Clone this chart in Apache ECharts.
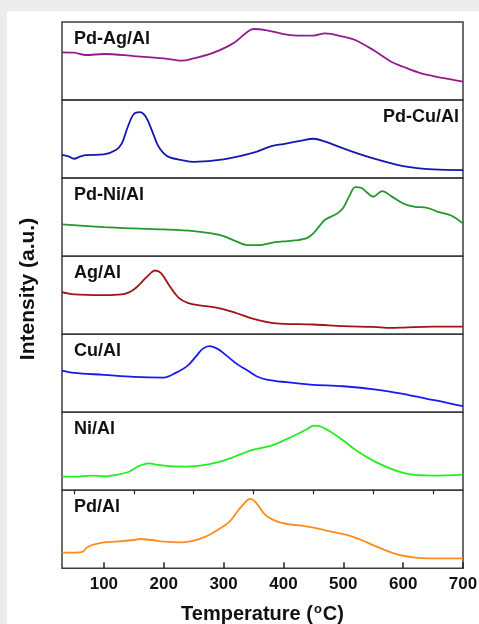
<!DOCTYPE html>
<html>
<head>
<meta charset="utf-8">
<script src="https://cdn.jsdelivr.net/npm/echarts@6/dist/echarts.min.js"></script>
<style>
  html, body { margin: 0; padding: 0; background: #ffffff; }
  #chart { width: 479px; height: 624px; }
</style>
</head>
<body>
<div id="chart"></div>
<script>
// TPR profiles, stacked top to bottom. Intensity in arbitrary units (0-100 per panel).
const sampleNames = ['Pd-Ag/Al', 'Pd-Cu/Al', 'Pd-Ni/Al', 'Ag/Al', 'Cu/Al', 'Ni/Al', 'Pd/Al'];
const sampleColors = ['#931a93', '#1616b0', '#22992a', '#a01414', '#1a1af0', '#22ee22', '#ff8c1a'];

const pdAgT = [30, 50, 70, 100, 150, 200, 230, 250, 280, 300, 320, 340, 350, 370, 400, 430, 450, 470, 500, 520, 550, 580, 600, 630, 650, 680, 700];
const pdAgV = [61.1, 60.7, 57.7, 59.0, 56.4, 53.4, 50.4, 53.4, 59.8, 66.2, 74.8, 87.6, 91.0, 89.7, 84.6, 82.5, 82.5, 85.5, 81.2, 76.9, 64.1, 49.1, 42.7, 34.2, 30.8, 26.5, 23.5];

const pdCuT = [30, 40, 50, 60, 70, 100, 120, 130, 140, 150, 160, 170, 180, 190, 200, 210, 230, 250, 300, 350, 380, 400, 430, 450, 470, 500, 550, 600, 650, 700];
const pdCuV = [29.9, 28.2, 24.8, 27.4, 29.5, 30.3, 35.9, 44.4, 65.8, 82.1, 84.6, 78.6, 61.5, 42.3, 31.6, 26.5, 23.1, 20.9, 23.9, 32.5, 41.0, 43.6, 47.9, 50.4, 46.6, 38.0, 25.2, 15.4, 11.1, 10.3];

const pdNiT = [30, 100, 150, 200, 250, 280, 300, 320, 340, 360, 380, 400, 420, 440, 450, 460, 470, 490, 500, 510, 520, 530, 540, 550, 565, 580, 600, 620, 640, 660, 680, 700];
const pdNiV = [40.6, 37.2, 35.5, 34.2, 32.1, 29.1, 25.6, 19.2, 14.1, 14.1, 17.1, 18.8, 20.1, 23.5, 29.1, 38.5, 47.0, 54.7, 62.0, 76.9, 88.5, 87.6, 81.2, 76.1, 83.3, 76.9, 67.5, 63.2, 62.0, 56.4, 52.1, 41.9];

const agT = [30, 50, 100, 130, 150, 170, 180, 185, 195, 210, 225, 240, 260, 290, 320, 350, 380, 400, 450, 500, 550, 580, 600, 650, 700];
const agV = [53.8, 50.9, 50.0, 50.9, 57.3, 72.2, 79.5, 81.6, 78.6, 61.5, 46.6, 40.2, 36.8, 33.8, 27.4, 19.7, 14.5, 13.2, 12.4, 10.3, 9.4, 8.1, 8.5, 9.8, 9.8];

const cuT = [30, 50, 100, 150, 200, 220, 240, 255, 265, 277, 290, 305, 322, 340, 355, 372, 405, 445, 500, 555, 600, 640, 670, 700];
const cuV = [53.4, 50.4, 47.9, 45.3, 44.4, 50.4, 59.8, 72.6, 81.2, 84.6, 81.2, 72.6, 62.0, 53.4, 46.2, 41.9, 38.5, 35.5, 33.3, 29.1, 23.5, 17.1, 12.8, 7.7];

const niT = [30, 50, 80, 100, 120, 140, 150, 160, 175, 190, 210, 240, 270, 300, 320, 340, 360, 380, 400, 420, 440, 450, 460, 480, 500, 520, 550, 580, 600, 620, 650, 700];
const niV = [17.9, 17.5, 18.8, 17.9, 19.7, 23.1, 27.4, 31.6, 34.6, 32.5, 30.8, 30.3, 32.5, 38.0, 43.6, 49.6, 53.8, 57.3, 63.7, 70.9, 78.6, 82.9, 82.1, 74.4, 63.7, 52.1, 38.0, 27.4, 22.2, 19.7, 18.8, 20.1];

const pdT = [30, 50, 65, 70, 80, 100, 120, 150, 160, 180, 200, 230, 250, 270, 290, 310, 325, 340, 345, 355, 370, 390, 410, 430, 450, 480, 510, 530, 560, 590, 620, 650, 700];
const pdV = [20.5, 20.1, 21.4, 25.6, 29.9, 33.3, 34.2, 36.3, 37.6, 36.3, 34.2, 33.3, 35.5, 40.6, 49.1, 59.8, 74.8, 87.6, 88.9, 83.3, 68.4, 59.8, 56.4, 54.7, 52.1, 47.0, 41.9, 36.3, 26.5, 17.9, 13.7, 12.8, 12.8];

const xTicks = [100, 200, 300, 400, 500, 600, 700];
const xMinorTicks = [50, 150, 250, 350, 450, 550, 650];

const curves = [
  [pdAgT, pdAgV], [pdCuT, pdCuV], [pdNiT, pdNiV], [agT, agV],
  [cuT, cuV], [niT, niV], [pdT, pdV]
];

// Layout of the stacked panels
const plotLeft = 62, plotRight = 16, plotTop = 22, panelH = 78.05;
const xMin = 30, xMax = 700;
const font = 'Liberation Sans, Arial, Helvetica, sans-serif';

const grids = [], xAxes = [], yAxes = [], series = [], texts = [];
sampleNames.forEach((name, i) => {
  const top = plotTop + panelH * i;
  grids.push({
    left: plotLeft, right: plotRight, top: top, height: panelH,
    outerBoundsMode: 'none', containLabel: false,
    show: true, borderColor: '#3c3c3c', borderWidth: 1.5, backgroundColor: 'transparent'
  });
  const isBottom = i === sampleNames.length - 1;
  xAxes.push({
    type: 'value', gridIndex: i, min: xMin, max: xMax,
    axisLine: { show: false },
    splitLine: { show: false },
    axisTick: isBottom ? {
      show: true, inside: true, length: 6, customValues: xTicks,
      lineStyle: { color: '#222', width: 1.5 }
    } : { show: false },
    axisLabel: isBottom ? {
      show: true, customValues: xTicks, margin: 7,
      fontFamily: font, fontWeight: 'bold', fontSize: 17, color: '#111'
    } : { show: false },
    name: isBottom ? 'Temperature ({sup|o}C)' : '',
    nameLocation: 'middle', nameGap: 35,
    nameTextStyle: {
      fontFamily: font, fontWeight: 'bold', fontSize: 20, color: '#111',
      rich: { sup: { fontFamily: font, fontWeight: 'bold', fontSize: 13, color: '#111', verticalAlign: 'top', padding: [0, 1, 9, 1] } }
    }
  });
  yAxes.push({
    type: 'value', gridIndex: i, min: 0, max: 100,
    show: false, splitLine: { show: false }
  });
  series.push({
    type: 'line', name: name, xAxisIndex: i, yAxisIndex: i,
    data: curves[i][0].map((t, k) => [t, curves[i][1][k]]),
    showSymbol: false, smooth: 0.35, silent: true,
    lineStyle: { color: sampleColors[i], width: 1.8 }
  });
  const rightLabel = name === 'Pd-Cu/Al';
  texts.push({
    type: 'text',
    x: rightLabel ? 459 : 74,
    y: top + 17,
    style: {
      text: name, fill: '#111', font: 'bold 18px ' + font,
      align: rightLabel ? 'right' : 'left', verticalAlign: 'middle'
    }
  });
});

// Minor ticks along the bottom panel
const last = sampleNames.length - 1;
xAxes.push({
  type: 'value', gridIndex: last, min: xMin, max: xMax,
  axisLine: { show: false }, splitLine: { show: false },
  axisLabel: { show: false },
  axisTick: { show: true, inside: true, length: 4, customValues: xMinorTicks, lineStyle: { color: '#222', width: 1.2 } }
});

const chart = echarts.init(document.getElementById('chart'), null, { renderer: 'canvas' });
chart.setOption({
  animation: false,
  backgroundColor: '#ffffff',
  grid: grids,
  xAxis: xAxes,
  yAxis: yAxes,
  series: series,
  graphic: [
    { type: 'rect', shape: { x: 0, y: 0, width: 479, height: 11 }, style: { fill: '#ececec' }, z: -10 },
    { type: 'rect', shape: { x: 0, y: 0, width: 7, height: 624 }, style: { fill: '#ececec' }, z: -10 },
    {
      type: 'text', x: 28, y: 289, rotation: Math.PI / 2,
      style: { text: 'Intensity (a.u.)', fill: '#111', font: 'bold 21px ' + font, align: 'center', verticalAlign: 'middle' }
    }
  ].concat(texts)
});
</script>
</body>
</html>
